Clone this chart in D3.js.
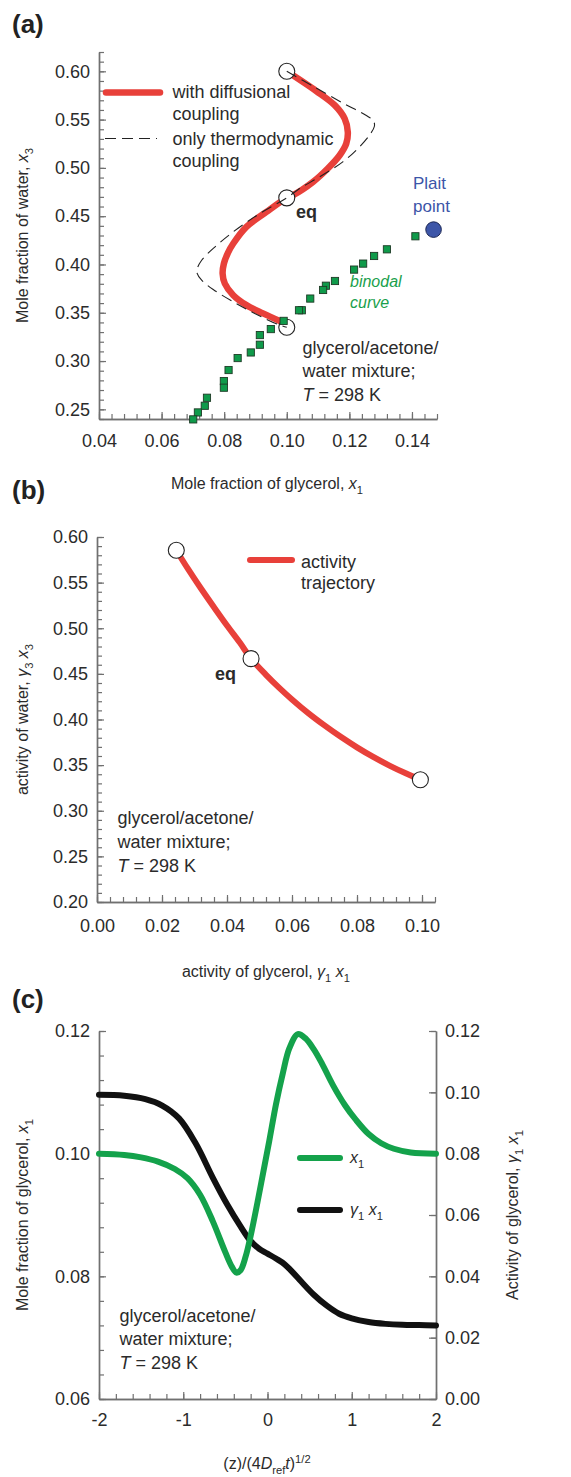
<!DOCTYPE html>
<html><head><meta charset="utf-8">
<script src="https://cdn.jsdelivr.net/npm/d3@7"></script>
<style>body{margin:0;background:#fff}svg{display:block}</style>
</head><body>
<svg id="fig" width="571" height="1477"></svg>
<script>
// ---------- Panel (a): composition trajectories, x1 vs x3 ----------
const diffTrajX = [0.1000,0.1094,0.1153,0.1185,0.1195,0.1190,0.1169,0.1131,0.1084,0.1020,0.1000,0.0935,0.0871,0.0829,0.0812,0.0799,0.0795,0.0802,0.0829,0.0871,0.0924,0.0983];
const diffTrajY = [0.6000,0.5796,0.5650,0.5510,0.5371,0.5251,0.5131,0.4993,0.4855,0.4717,0.4690,0.4545,0.4390,0.4217,0.4120,0.4009,0.3906,0.3803,0.3682,0.3579,0.3493,0.3406];
const thermoTrajX = [0.1000,0.1084,0.1179,0.1253,0.1277,0.1280,0.1264,0.1227,0.1179,0.1105,0.1041,0.1000,0.0914,0.0829,0.0765,0.0728,0.0714,0.0714,0.0728,0.0765,0.0829,0.0893,0.0977,0.1000];
const thermoTrajY = [0.6000,0.5845,0.5672,0.5545,0.5486,0.5431,0.5338,0.5200,0.5062,0.4907,0.4786,0.4690,0.4528,0.4338,0.4166,0.4044,0.3957,0.3906,0.3837,0.3741,0.3613,0.3500,0.3372,0.3350];
const binodalX = [0.1411,0.1320,0.1279,0.1244,0.1215,0.1154,0.1125,0.1116,0.1075,0.1048,0.1039,0.0990,0.0949,0.0914,0.0914,0.0885,0.0843,0.0814,0.0799,0.0799,0.0745,0.0738,0.0716,0.0701];
const binodalY = [0.4292,0.4157,0.4088,0.4009,0.3947,0.3829,0.3780,0.3736,0.3647,0.3526,0.3526,0.3416,0.3331,0.3269,0.3169,0.3089,0.3031,0.2907,0.2793,0.2724,0.2620,0.2537,0.2468,0.2396];
const plaitX = [0.1469];
const plaitY = [0.4361];
const compMarkX = [0.100, 0.100, 0.100];
const compMarkY = [0.600, 0.469, 0.335];
const aXTicks = [0.04, 0.06, 0.08, 0.10, 0.12, 0.14];
const aYTicks = [0.25, 0.30, 0.35, 0.40, 0.45, 0.50, 0.55, 0.60];

// ---------- Panel (b): activity trajectory ----------
const actX = [0.0244,0.0280,0.0320,0.0360,0.0400,0.0440,0.0474,0.0520,0.0560,0.0600,0.0650,0.0700,0.0750,0.0800,0.0850,0.0900,0.0950,0.0995];
const actY = [0.5855,0.5650,0.5435,0.5230,0.5030,0.4840,0.4667,0.4490,0.4350,0.4220,0.4070,0.3935,0.3810,0.3695,0.3590,0.3495,0.3410,0.3340];
const actMarkX = [0.0244, 0.0474, 0.0995];
const actMarkY = [0.5855, 0.4667, 0.3340];
const bXTicks = [0.00, 0.02, 0.04, 0.06, 0.08, 0.10];
const bYTicks = [0.20, 0.25, 0.30, 0.35, 0.40, 0.45, 0.50, 0.55, 0.60];

// ---------- Panel (c): profiles along the similarity coordinate ----------
const zX1 = [-2.0,-1.7,-1.5,-1.3,-1.1,-0.95,-0.8,-0.65,-0.5,-0.42,-0.37,-0.32,-0.26,-0.2,-0.12,-0.05,0.02,0.1,0.18,0.26,0.36,0.45,0.55,0.65,0.78,0.92,1.05,1.2,1.35,1.5,1.7,2.0];
const x1Profile = [0.1000,0.0998,0.0994,0.0987,0.0975,0.0960,0.0933,0.0890,0.0839,0.0815,0.0806,0.0810,0.0832,0.0866,0.0920,0.0970,0.1020,0.1080,0.1130,0.1172,0.1195,0.1188,0.1170,0.1146,0.1111,0.1079,0.1055,0.1032,0.1017,0.1008,0.1002,0.1000];
const zA1 = [-2.0,-1.7,-1.45,-1.25,-1.05,-0.85,-0.65,-0.48,-0.32,-0.2,-0.1,0.0,0.1,0.2,0.3,0.4,0.55,0.7,0.85,1.0,1.2,1.4,1.6,1.8,2.0];
const a1Profile = [0.0992,0.0989,0.0978,0.0957,0.0915,0.0832,0.0722,0.0635,0.0563,0.0515,0.0490,0.0474,0.0458,0.0440,0.0413,0.0383,0.0340,0.0305,0.0278,0.0263,0.0251,0.0245,0.0242,0.0241,0.0240];
const cXTicks = [-2, -1, 0, 1, 2];
const cYLeftTicks = [0.06, 0.08, 0.10, 0.12];
const cYRightTicks = [0.00, 0.02, 0.04, 0.06, 0.08, 0.10, 0.12];

// ---------- styling ----------
const FONT = "'Liberation Sans', Arial, Helvetica, sans-serif";
const AX = "#707070", TXT = "#2b2b2b";
const RED = "#e8403a", GREEN = "#14a24b", BLACK = "#111111";

const svg = d3.select("#fig").attr("font-family", FONT);
svg.append("rect").attr("width", 571).attr("height", 1477).attr("fill", "#fff");

const steps = (a, b, s) => d3.range(Math.round((b - a) / s) + 1).map(i => +(a + i * s).toFixed(4));
const zip = (xs, ys) => xs.map((x, i) => [x, ys[i]]);

function drawAxis(orient, scale, tr, minor, major, fmt, pad) {
  const mk = {left: d3.axisLeft, right: d3.axisRight, bottom: d3.axisBottom}[orient];
  const gm = svg.append("g").attr("transform", tr)
    .call(mk(scale).tickValues(minor).tickFormat("").tickSizeInner(-5).tickSizeOuter(0));
  const gM = svg.append("g").attr("transform", tr)
    .call(mk(scale).tickValues(major).tickFormat(fmt).tickSizeInner(-7).tickSizeOuter(0).tickPadding(pad));
  [gm, gM].forEach(g => {
    g.attr("font-family", FONT).attr("font-size", 18);
    g.select(".domain").attr("stroke", AX).attr("stroke-width", 1.4);
    g.selectAll(".tick line").attr("stroke", AX).attr("stroke-width", 1.2);
    g.selectAll("text").attr("fill", TXT);
  });
}

// rich text with italic / sub / sup parts
function rich(x, y, parts, size, opt = {}) {
  const t = svg.append("text").attr("x", x).attr("y", y).attr("font-size", size)
    .attr("fill", opt.fill || TXT);
  if (opt.anchor) t.attr("text-anchor", opt.anchor);
  if (opt.rotate) t.attr("transform", `rotate(${opt.rotate},${x},${y})`);
  if (opt.weight) t.attr("font-weight", opt.weight);
  if (opt.italic) t.attr("font-style", "italic");
  let off = 0;
  parts.forEach(p => {
    const s = t.append("tspan").text(p.t);
    let target = 0;
    if (p.sub) { target = size * 0.3; s.attr("font-size", size * 0.7); }
    if (p.sup) { target = -size * 0.4; s.attr("font-size", size * 0.7); }
    if (target !== off) { s.attr("dy", target - off); off = target; }
    if (p.i) s.attr("font-style", "italic");
  });
  return t;
}

function panelLabel(x, y, s) {
  svg.append("text").attr("x", x).attr("y", y).attr("font-size", 26).attr("font-weight", "bold")
    .attr("fill", "#222").text(s);
}

// ================= Panel (a) =================
const xA = d3.scaleLinear().domain([0.04, 0.148]).range([99, 437]);
const yA = d3.scaleLinear().domain([0.24, 0.62]).range([419, 52]);
drawAxis("left", yA, "translate(99,0)", steps(0.24, 0.62, 0.01), aYTicks, d3.format(".2f"), 9);
drawAxis("bottom", xA, "translate(0,419)", steps(0.04, 0.148, 0.004), aXTicks, d3.format(".2f"), 15);

const lineA = d3.line().x(d => xA(d[0])).y(d => yA(d[1])).curve(d3.curveCatmullRom.alpha(0.5));
svg.append("path").attr("d", lineA(zip(diffTrajX, diffTrajY)))
  .attr("fill", "none").attr("stroke", RED).attr("stroke-width", 6.5).attr("stroke-linecap", "round");
svg.selectAll(null).data(zip(compMarkX, compMarkY)).join("circle")
  .attr("cx", d => xA(d[0])).attr("cy", d => yA(d[1])).attr("r", 8)
  .attr("fill", "#fff").attr("stroke", "#222").attr("stroke-width", 1.1);
svg.append("path").attr("d", lineA(zip(thermoTrajX, thermoTrajY)))
  .attr("fill", "none").attr("stroke", "#222").attr("stroke-width", 1.1).attr("stroke-dasharray", "11,6");
svg.selectAll(null).data(zip(binodalX, binodalY)).join("rect")
  .attr("x", d => xA(d[0]) - 3.6).attr("y", d => yA(d[1]) - 3.6).attr("width", 7.2).attr("height", 7.2)
  .attr("fill", "#0f9a4a").attr("stroke", "#1e3b26").attr("stroke-width", 0.9);
svg.selectAll(null).data(zip(plaitX, plaitY)).join("circle")
  .attr("cx", d => xA(d[0])).attr("cy", d => yA(d[1])).attr("r", 7.8)
  .attr("fill", "#3d56a8").attr("stroke", "#1d2855").attr("stroke-width", 1);

// legend (a)
svg.append("line").attr("x1", 106).attr("x2", 160).attr("y1", 92.5).attr("y2", 92.5)
  .attr("stroke", RED).attr("stroke-width", 6.5).attr("stroke-linecap", "round");
svg.append("line").attr("x1", 105).attr("x2", 157).attr("y1", 138.5).attr("y2", 138.5)
  .attr("stroke", "#222").attr("stroke-width", 1.1).attr("stroke-dasharray", "11,6");
rich(172.5, 98, [{t: "with diffusional"}], 18);
rich(172.5, 120, [{t: "coupling"}], 18);
rich(172.5, 145, [{t: "only thermodynamic"}], 18);
rich(172.5, 167, [{t: "coupling"}], 18);
rich(296, 218, [{t: "eq"}], 18, {weight: "bold"});
rich(413, 189, [{t: "Plait"}], 17, {fill: "#3c55a8"});
rich(413, 211.5, [{t: "point"}], 17, {fill: "#3c55a8"});
rich(350, 287, [{t: "binodal"}], 16, {fill: "#1a9f4c", italic: true});
rich(350, 308, [{t: "curve"}], 16, {fill: "#1a9f4c", italic: true});
rich(302.5, 353.5, [{t: "glycerol/acetone/"}], 18);
rich(302.5, 377, [{t: "water mixture;"}], 18);
rich(302.5, 400.5, [{t: "T", i: 1}, {t: " = 298 K"}], 18);
rich(28, 235.5, [{t: "Mole fraction of water, "}, {t: "x", i: 1}, {t: "3", sub: 1}], 16, {anchor: "middle", rotate: -90});
rich(267, 489, [{t: "Mole fraction of glycerol, "}, {t: "x", i: 1}, {t: "1", sub: 1}], 16, {anchor: "middle"});
panelLabel(12, 33, "(a)");

// ================= Panel (b) =================
const xB = d3.scaleLinear().domain([0, 0.104]).range([97, 435]);
const yB = d3.scaleLinear().domain([0.20, 0.60]).range([902, 537]);
drawAxis("left", yB, "translate(97,0)", steps(0.20, 0.60, 0.01), bYTicks, d3.format(".2f"), 9);
drawAxis("bottom", xB, "translate(0,902)", steps(0, 0.104, 0.004), bXTicks, d3.format(".2f"), 17);
const lineB = d3.line().x(d => xB(d[0])).y(d => yB(d[1])).curve(d3.curveCatmullRom.alpha(0.5));
svg.append("path").attr("d", lineB(zip(actX, actY)))
  .attr("fill", "none").attr("stroke", RED).attr("stroke-width", 6).attr("stroke-linecap", "round");
svg.selectAll(null).data(zip(actMarkX, actMarkY)).join("circle")
  .attr("cx", d => xB(d[0])).attr("cy", d => yB(d[1])).attr("r", 8)
  .attr("fill", "#fff").attr("stroke", "#222").attr("stroke-width", 1.1);
svg.append("line").attr("x1", 250).attr("x2", 292).attr("y1", 560).attr("y2", 560)
  .attr("stroke", RED).attr("stroke-width", 6).attr("stroke-linecap", "round");
rich(301, 568, [{t: "activity"}], 18);
rich(301, 589, [{t: "trajectory"}], 18);
rich(215, 680, [{t: "eq"}], 18, {weight: "bold"});
rich(117.5, 824, [{t: "glycerol/acetone/"}], 18);
rich(117.5, 848, [{t: "water mixture;"}], 18);
rich(117.5, 872, [{t: "T", i: 1}, {t: " = 298 K"}], 18);
rich(28, 719.5, [{t: "activity of water, "}, {t: "γ", i: 1}, {t: "3", sub: 1}, {t: " "}, {t: "x", i: 1}, {t: "3", sub: 1}], 16, {anchor: "middle", rotate: -90});
rich(266, 977, [{t: "activity of glycerol, "}, {t: "γ", i: 1}, {t: "1", sub: 1}, {t: " "}, {t: "x", i: 1}, {t: "1", sub: 1}], 16, {anchor: "middle"});
panelLabel(12, 499, "(b)");

// ================= Panel (c) =================
const xC = d3.scaleLinear().domain([-2, 2]).range([99, 436]);
const yCL = d3.scaleLinear().domain([0.06, 0.12]).range([1399, 1031]);
const yCR = d3.scaleLinear().domain([0, 0.12]).range([1399, 1031]);
drawAxis("left", yCL, "translate(99,0)", steps(0.06, 0.12, 0.004), cYLeftTicks, d3.format(".2f"), 9);
drawAxis("right", yCR, "translate(436,0)", cYRightTicks, cYRightTicks, d3.format(".2f"), 9);
drawAxis("bottom", xC, "translate(0,1399)", steps(-2, 2, 0.2), cXTicks, d => String(d), 14);
const lineX1 = d3.line().x(d => xC(d[0])).y(d => yCL(d[1])).curve(d3.curveCatmullRom.alpha(0.5));
const lineA1 = d3.line().x(d => xC(d[0])).y(d => yCR(d[1])).curve(d3.curveCatmullRom.alpha(0.5));
svg.append("path").attr("d", lineA1(zip(zA1, a1Profile)))
  .attr("fill", "none").attr("stroke", BLACK).attr("stroke-width", 6).attr("stroke-linecap", "round");
svg.append("path").attr("d", lineX1(zip(zX1, x1Profile)))
  .attr("fill", "none").attr("stroke", GREEN).attr("stroke-width", 6).attr("stroke-linecap", "round");
svg.append("line").attr("x1", 300).attr("x2", 340).attr("y1", 1158).attr("y2", 1158)
  .attr("stroke", GREEN).attr("stroke-width", 6).attr("stroke-linecap", "round");
svg.append("line").attr("x1", 300).attr("x2", 340).attr("y1", 1210).attr("y2", 1210)
  .attr("stroke", BLACK).attr("stroke-width", 6).attr("stroke-linecap", "round");
rich(350, 1163, [{t: "x", i: 1}, {t: "1", sub: 1}], 16);
rich(350, 1215, [{t: "γ", i: 1}, {t: "1", sub: 1}, {t: " "}, {t: "x", i: 1}, {t: "1", sub: 1}], 16);
rich(119.5, 1321.5, [{t: "glycerol/acetone/"}], 18);
rich(119.5, 1345, [{t: "water mixture;"}], 18);
rich(119.5, 1368.5, [{t: "T", i: 1}, {t: " = 298 K"}], 18);
rich(28, 1215, [{t: "Mole fraction of glycerol, "}, {t: "x", i: 1}, {t: "1", sub: 1}], 16, {anchor: "middle", rotate: -90});
rich(518, 1215, [{t: "Activity of glycerol, "}, {t: "γ", i: 1}, {t: "1", sub: 1}, {t: " "}, {t: "x", i: 1}, {t: "1", sub: 1}], 16, {anchor: "middle", rotate: -90});
rich(267, 1469, [{t: "(z)/(4"}, {t: "D", i: 1}, {t: "ref", sub: 1}, {t: "t", i: 1}, {t: ")"}, {t: "1/2", sup: 1}], 16, {anchor: "middle"});
panelLabel(12, 1008, "(c)");
</script>
</body></html>
